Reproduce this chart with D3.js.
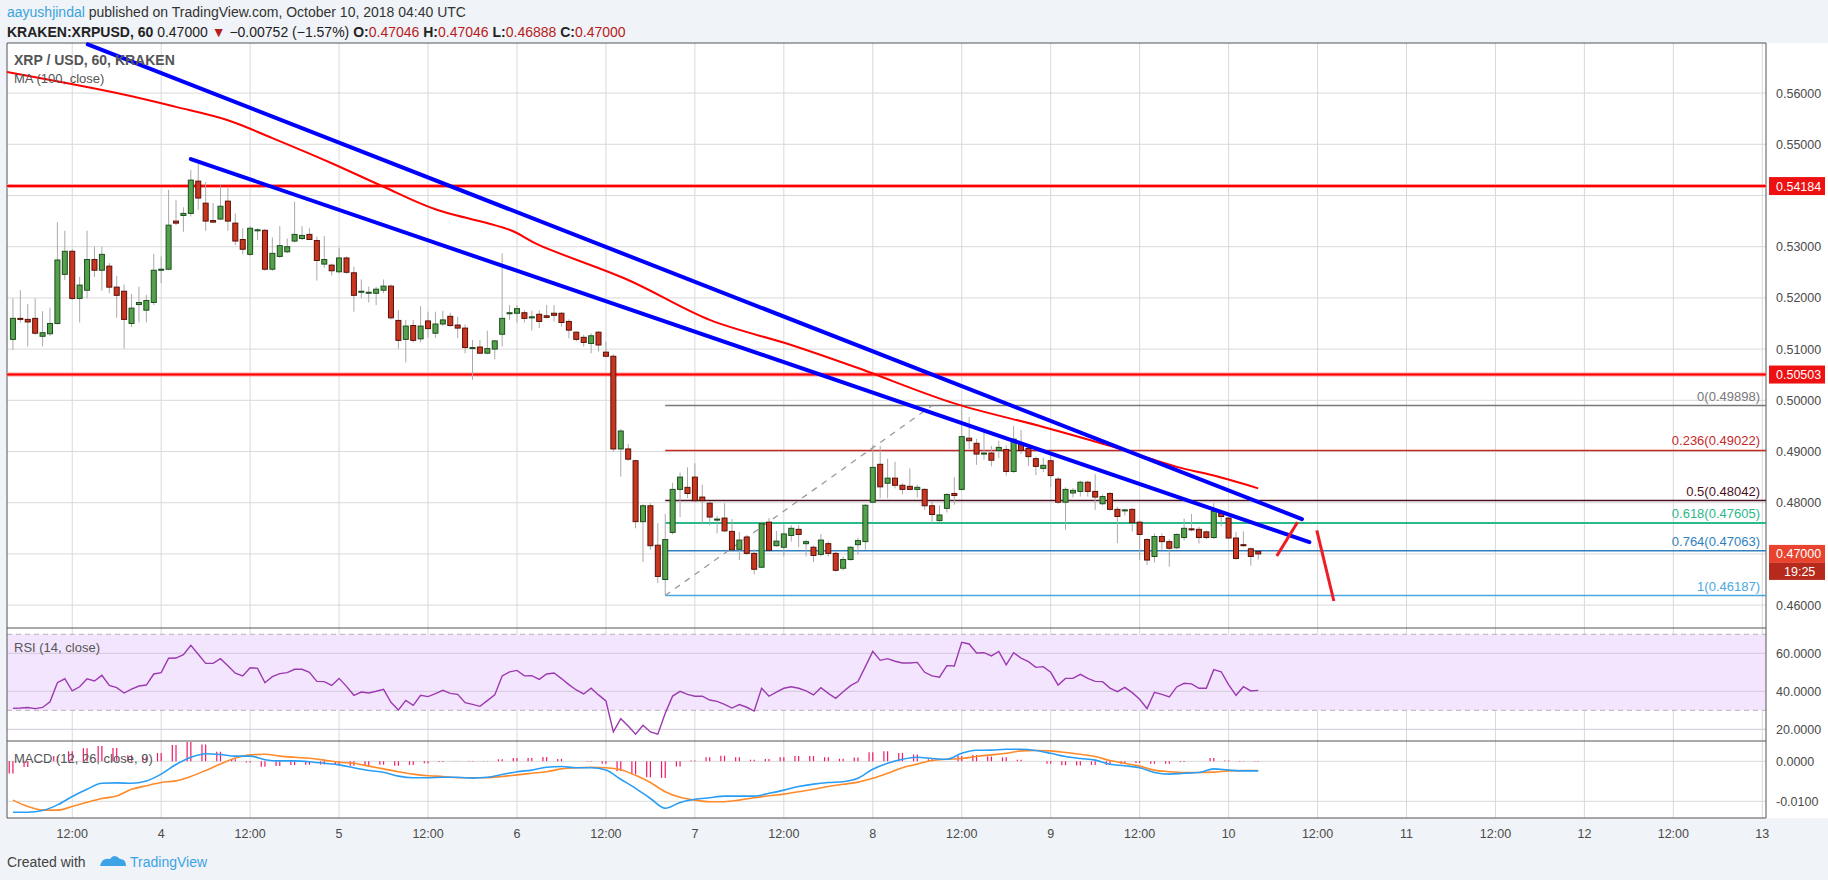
<!DOCTYPE html>
<html><head><meta charset="utf-8">
<script src="https://cdn.jsdelivr.net/npm/d3@7"></script>
<style>body{margin:0;background:#f0f3f7;}svg{display:block;font-family:"Liberation Sans",Arial,sans-serif;}</style>
</head><body><svg id="c" width="1828" height="880"></svg>
<script>
// ---- DATA ----
const firstHour = -20; // candle 0 = Oct 3 04:00 (hours from Oct 4 00:00)
const candles = [
[.5119,.5199,.5098,.5160],[.5160,.5215,.5152,.5158],[.5158,.5188,.5105,.5153],[.5160,.5199,.5128,.5131],[.5125,.5174,.5105,.5132],
[.5130,.5181,.5126,.5150],[.5150,.5348,.5148,.5274],[.5246,.5331,.5235,.5291],[.5291,.5295,.5196,.5199],[.5199,.5241,.5152,.5225],
[.5215,.5331,.5199,.5275],[.5275,.5300,.5241,.5254],[.5254,.5300,.5214,.5285],[.5262,.5268,.5209,.5221],[.5221,.5243,.5161,.5205],
[.5213,.5226,.5101,.5158],[.5150,.5208,.5143,.5180],[.5187,.5222,.5152,.5191],[.5176,.5206,.5152,.5195],[.5191,.5286,.5186,.5254],
[.5254,.5281,.5229,.5256],[.5256,.5411,.5254,.5342],[.5350,.5391,.5342,.5346],[.5361,.5377,.5329,.5365],[.5365,.5450,.5359,.5430],
[.5428,.5463,.5372,.5395],[.5385,.5426,.5331,.5350],[.5351,.5385,.5346,.5348],[.5354,.5420,.5352,.5379],[.5389,.5417,.5331,.5350],
[.5346,.5365,.5303,.5311],[.5314,.5336,.5285,.5295],[.5285,.5340,.5282,.5336],[.5331,.5336,.5313,.5333],[.5332,.5335,.5253,.5256],
[.5256,.5318,.5253,.5287],[.5281,.5340,.5278,.5302],[.5290,.5316,.5287,.5300],[.5311,.5388,.5308,.5324],[.5316,.5340,.5313,.5322],
[.5324,.5336,.5313,.5314],[.5312,.5320,.5234,.5273],[.5266,.5321,.5259,.5275],[.5264,.5267,.5244,.5253],[.5251,.5298,.5248,.5278],
[.5278,.5281,.5247,.5250],[.5249,.5261,.5173,.5205],[.5211,.5236,.5199,.5213],[.5210,.5222,.5191,.5211],[.5209,.5222,.5186,.5217],
[.5215,.5236,.5209,.5223],[.5223,.5226,.5158,.5161],[.5156,.5176,.5101,.5117],[.5119,.5157,.5074,.5145],[.5146,.5157,.5113,.5117],
[.5120,.5184,.5113,.5145],[.5155,.5173,.5122,.5140],[.5131,.5173,.5122,.5149],[.5149,.5175,.5145,.5157],[.5164,.5171,.5144,.5146],
[.5147,.5163,.5121,.5141],[.5141,.5148,.5092,.5103],[.5101,.5118,.5040,.5103],[.5104,.5118,.5090,.5092],[.5092,.5136,.5090,.5101],
[.5100,.5118,.5080,.5116],[.5129,.5287,.5105,.5160],[.5170,.5186,.5157,.5171],[.5170,.5186,.5152,.5179],[.5171,.5176,.5152,.5160],
[.5161,.5175,.5136,.5163],[.5168,.5176,.5141,.5154],[.5165,.5186,.5160,.5162],[.5170,.5186,.5154,.5166],[.5170,.5172,.5144,.5152],
[.5154,.5158,.5121,.5137],[.5133,.5135,.5115,.5119],[.5123,.5128,.5105,.5113],[.5111,.5131,.5092,.5126],[.5133,.5135,.5095,.5108],
[.5094,.5115,.5084,.5086],[.5086,.5090,.4900,.4905],[.4905,.4944,.4851,.4940],[.4905,.4915,.4882,.4885],[.4882,.4884,.4750,.4763],
[.4763,.4797,.4684,.4794],[.4794,.4799,.4708,.4716],[.4717,.4760,.4643,.4656],[.4650,.4778,.4619,.4728],[.4742,.4839,.4738,.4826],
[.4826,.4859,.4772,.4850],[.4830,.4869,.4809,.4818],[.4850,.4877,.4801,.4804],[.4811,.4835,.4759,.4804],[.4799,.4802,.4756,.4772],
[.4766,.4774,.4740,.4768],[.4770,.4799,.4743,.4745],[.4744,.4768,.4706,.4708],[.4709,.4743,.4688,.4727],[.4733,.4737,.4698,.4701],
[.4701,.4709,.4660,.4670],[.4674,.4763,.4672,.4759],[.4762,.4770,.4705,.4707],[.4716,.4745,.4714,.4725],[.4713,.4758,.4695,.4739],
[.4736,.4756,.4724,.4750],[.4748,.4756,.4713,.4738],[.4720,.4728,.4695,.4724],[.4713,.4716,.4684,.4697],[.4699,.4739,.4695,.4727],
[.4720,.4724,.4695,.4701],[.4701,.4704,.4665,.4668],[.4672,.4695,.4668,.4689],[.4689,.4715,.4687,.4713],[.4718,.4732,.4699,.4726],
[.4724,.4797,.4708,.4795],[.4801,.4913,.4799,.4869],[.4875,.4911,.4809,.4831],[.4838,.4886,.4809,.4848],[.4848,.4880,.4828,.4834],
[.4834,.4838,.4816,.4826],[.4832,.4867,.4824,.4826],[.4826,.4835,.4810,.4830],[.4826,.4828,.4786,.4794],[.4794,.4802,.4760,.4777],
[.4765,.4795,.4763,.4776],[.4789,.4819,.4781,.4816],[.4818,.4850,.4796,.4814],[.4826,.4994,.4824,.4929],[.4926,.4967,.4905,.4921],
[.4916,.4925,.4874,.4895],[.4895,.4939,.4884,.4897],[.4897,.4911,.4871,.4883],[.4902,.4921,.4887,.4908],[.4904,.4912,.4853,.4861],
[.4861,.4950,.4858,.4924],[.4914,.4942,.4895,.4902],[.4906,.4913,.4872,.4890],[.4886,.4890,.4854,.4871],[.4867,.4888,.4860,.4873],
[.4882,.4900,.4831,.4853],[.4846,.4850,.4798,.4801],[.4801,.4830,.4747,.4826],[.4819,.4829,.4810,.4824],[.4822,.4843,.4812,.4840],
[.4840,.4843,.4812,.4822],[.4822,.4856,.4786,.4811],[.4798,.4816,.4795,.4812],[.4818,.4821,.4784,.4787],[.4787,.4792,.4721,.4773],
[.4785,.4788,.4775,.4786],[.4787,.4790,.4744,.4761],[.4762,.4765,.4688,.4738],[.4728,.4731,.4678,.4688],[.4695,.4740,.4683,.4734],
[.4734,.4740,.4708,.4724],[.4724,.4729,.4675,.4711],[.4712,.4740,.4709,.4738],[.4732,.4769,.4726,.4750],[.4749,.4778,.4744,.4747],
[.4748,.4753,.4720,.4732],[.4743,.4746,.4729,.4732],[.4732,.4799,.4729,.4783],[.4779,.4786,.4754,.4773],[.4770,.4772,.4729,.4731],
[.4731,.4743,.4689,.4691],[.4718,.4744,.4714,.4716],[.4710,.4713,.4677,.4695],[.4705,.4705,.4689,.4700]
];
// MA(100) read at candle indexes
const maIndex = [0,14,22,29,35,43,50,57,67,71,83,94,105,114,127,139,148,157,162,168];
const maValue = [.5641,.5600,.5573,.5547,.5512,.5463,.5417,.5373,.5333,.5303,.5235,.5157,.5108,.5063,.4994,.4948,.4911,.4870,.4853,.4828];
const rsi = [31.0,31.2,31.5,30.9,31.5,34.5,44.5,46.6,40.2,42.4,46.6,45.4,48.4,43.1,41.9,39.1,41.2,42.8,43.3,49.1,49.8,
57.4,57.5,59.3,64.2,59.5,54.7,54.7,57.2,53.5,49.5,48.1,52.4,52.1,44.5,47.7,49.3,49.8,51.6,51.6,50.0,
45.2,45.1,43.1,46.8,42.6,37.9,39.6,39.1,40.0,41.0,34.2,30.2,35.2,32.6,37.9,37.2,38.8,40.5,38.9,38.4,
34.0,33.1,32.1,35.1,38.1,48.1,50.2,51.0,48.1,48.2,46.3,49.1,49.6,46.7,43.5,40.7,38.6,41.6,38.1,34.9,
18.6,25.6,21.7,17.4,22.1,18.6,17.4,28.4,37.5,40.0,38.4,37.4,
37.4,35.4,34.7,33.1,31.2,33.0,31.6,29.6,41.6,37.4,39.6,41.6,42.4,41.6,40.2,38.1,41.9,38.9,36.3,39.8,43.0,45.1,53.0,61.0,56.3,57.2,55.8,54.9,54.9,55.2,
50.0,48.1,47.4,53.5,53.3,65.8,64.9,60.2,60.3,58.6,61.0,53.9,60.3,57.5,55.6,52.6,53.0,50.0,43.3,46.8,46.8,48.9,46.8,45.2,45.1,41.7,39.8,42.1,39.3,35.8,
30.9,39.5,38.4,37.0,42.3,44.2,43.9,41.6,41.6,51.4,50.3,43.5,37.9,42.4,40.2,40.5];
// MACD (12,26,9), values x1e-4, every 2nd candle (index 0,2,...,168)
const macdLine = [-127.5,-127.5,-123,-109,-88,-70,-55,-54,-55,-49,-32,-8,10,19,17,13,13,4,1,1,-1,-5,-9,-16,-23,-27.5,-37,-41,-41,-40,-40,-42,-40,-33,-26,-22,-15,-13,-16,-16,-22,-45,-67.5,-93,-117.5,-103,-95,
-91,-87,-87,-87,-80,-72,-63,-57,-53,-51,-42.5,-20,-5,5,10,7,5,20,27.5,28,30,30,27,20,12,7,3,-7.5,-11,-16,-28,-32,-30,-28,-19,-22,-24,-24];
const signalLine = [-97,-113,-122,-122,-113,-102.5,-93,-87,-70,-61,-53,-49,-38,-23,-7,8,16,17.5,13,10,7.5,3,-2.5,-5,-12,-19,-26,-32,-36,-38,-41,-41,-41,-38,-34,-30,-26,-19,-16,-15,-16,-21,-35,-53,-76,-90,-97,
-101,-101,-97,-91,-86,-82,-76,-70,-63,-57.5,-52,-42.5,-30,-16,-7,2,5,7,12,16,20,26,27,26,22,17.5,12,2,-5,-12,-22,-26,-28,-28,-27,-24,-23,-23];
const trendLines = [{i1:10.1,p1:.5695,i2:173.9,p2:.4768},{i1:24,p1:.5471,i2:174.9,p2:.4723}];
const hLevels = [0.54184, 0.50503];
const fibStart = {i:88, p:0.46187}, fibEnd = {i:124, p:0.49898};
const fibLevels = [["0",0.49898,"#787878"],["0.236",0.49022,"#c62828"],["0.5",0.48042,"#4a1022"],["0.618",0.47605,"#2bb88a"],["0.764",0.47063,"#2f7fc0"],["1",0.46187,"#4aa8df"]];
const arrowPts = [[[170.5,.4696],[173.3,.4762]],[[175.9,.4746],[178.2,.4608]]];
const priceTicks = [0.46,0.47,0.48,0.49,0.50,0.51,0.52,0.53,0.54,0.55,0.56];
const timeTickLabels = ["12:00","4","12:00","5","12:00","6","12:00","7","12:00","8","12:00","9","12:00","10","12:00","11","12:00","12","12:00","13"];
const rsiTicks = [20,40,60];

// ---- LAYOUT ----
const L=7, R=1766, T=43, PB=628, RB=741, MB=818;
const svg=d3.select("#c");
const x=d3.scaleLinear().domain([-20.8,216.5]).range([L,R]);
const xi=i=>x(i+firstHour);
const y=d3.scaleLinear().domain([0.45553,0.56978]).range([PB,T]);
const yr=d3.scaleLinear().domain([0,100]).range([824.3,634.3-0]); // 10 units = 19px
yr.domain([60,40]).range([653.3,691.3]);
const ym=d3.scaleLinear().domain([0,-100]).range([761.3,801.3]);

svg.append("rect").attr("x",0).attr("y",0).attr("width",1828).attr("height",880).attr("fill","#f0f3f7");
svg.append("rect").attr("x",L).attr("y",T).attr("width",1828-L).attr("height",MB-T).attr("fill","#fff");
const grid="#d9d9d9";
// vertical grid
const tickHours=timeTickLabels.map((d,k)=>-12+12*k);
tickHours.forEach(h=>svg.append("line").attr("x1",x(h)).attr("x2",x(h)).attr("y1",T).attr("y2",MB).attr("stroke",grid));
priceTicks.forEach(p=>svg.append("line").attr("x1",L).attr("x2",R).attr("y1",y(p)).attr("y2",y(p)).attr("stroke",grid));
// RSI pane
svg.append("rect").attr("x",L).attr("y",yr(70)).attr("width",R-L).attr("height",yr(30)-yr(70)).attr("fill","#f3e5fd");
rsiTicks.forEach(v=>svg.append("line").attr("x1",L).attr("x2",R).attr("y1",yr(v)).attr("y2",yr(v)).attr("stroke","#d4c8dc"));
[70,30].forEach(v=>svg.append("line").attr("x1",L).attr("x2",R).attr("y1",yr(v)).attr("y2",yr(v)).attr("stroke","#b8b0c0").attr("stroke-dasharray","5,4"));
// MACD grid
[0,-100].forEach(v=>svg.append("line").attr("x1",L).attr("x2",R).attr("y1",ym(v)).attr("y2",ym(v)).attr("stroke",grid));
// pane borders
[T,PB,RB,MB].forEach(yy=>svg.append("line").attr("x1",L).attr("x2",R).attr("y1",yy).attr("y2",yy).attr("stroke","#555"));
svg.append("line").attr("x1",L).attr("x2",L).attr("y1",T).attr("y2",MB).attr("stroke","#555");
svg.append("line").attr("x1",R).attr("x2",R).attr("y1",T).attr("y2",MB).attr("stroke","#555");

// horizontal red levels
hLevels.forEach(p=>{svg.append("line").attr("x1",L).attr("x2",R).attr("y1",y(p)).attr("y2",y(p)).attr("stroke","#ff9a9a").attr("stroke-width",4);
 svg.append("line").attr("x1",L).attr("x2",R).attr("y1",y(p)).attr("y2",y(p)).attr("stroke","#ff0000").attr("stroke-width",2);});
// fib
fibLevels.forEach(([lab,p,col])=>{
 svg.append("line").attr("x1",xi(fibStart.i)).attr("x2",R).attr("y1",y(p)).attr("y2",y(p)).attr("stroke",col).attr("stroke-width",lab==="0.618"?2:1.5);
 svg.append("text").attr("x",R-6).attr("y",y(p)-5).attr("text-anchor","end").attr("font-size",13).attr("fill",col).text(`${lab}(${p.toFixed(5)})`);
});
svg.append("line").attr("x1",xi(fibStart.i)).attr("y1",y(fibStart.p)).attr("x2",xi(fibEnd.i)).attr("y2",y(fibEnd.p)).attr("stroke","#999").attr("stroke-dasharray","6,6").attr("stroke-width",1.3);

// candles
const cw=5;
const cg=svg.append("g");
candles.forEach((c,i)=>{const [o,h,l,cl]=c;const up=cl>=o;const cx=xi(i);
 cg.append("line").attr("x1",cx).attr("x2",cx).attr("y1",y(h)).attr("y2",y(l)).attr("stroke","#aaa");
 const top=y(Math.max(o,cl)),bot=y(Math.min(o,cl));
 cg.append("rect").attr("x",cx-cw/2).attr("y",top).attr("width",cw).attr("height",Math.max(1,bot-top))
  .attr("fill",up?"#53a14a":"#c8361f").attr("stroke",up?"#1e4d1e":"#5a1008").attr("stroke-width",1);
});
// MA
svg.append("path").datum(maIndex.map((d,k)=>[d,maValue[k]]))
 .attr("d",d3.line().x(d=>d[0]===0?L:xi(d[0])).y(d=>y(d[1])).curve(d3.curveCatmullRom))
 .attr("fill","none").attr("stroke","#ff0000").attr("stroke-width",2);
// trend lines
trendLines.forEach(t=>svg.append("line").attr("x1",xi(t.i1)).attr("y1",y(t.p1)).attr("x2",xi(t.i2)).attr("y2",y(t.p2)).attr("stroke","#0000ff").attr("stroke-width",4).attr("stroke-linecap","round"));
// red hand arrows
arrowPts.forEach(s=>svg.append("line").attr("x1",xi(s[0][0])).attr("y1",y(s[0][1])).attr("x2",xi(s[1][0])).attr("y2",y(s[1][1])).attr("stroke","#ee1c25").attr("stroke-width",3));

// RSI line
svg.append("path").datum(rsi).attr("d",d3.line().x((d,i)=>xi(i)).y(d=>yr(d))).attr("fill","none").attr("stroke","#9c3ab0").attr("stroke-width",1.4);
// MACD
const step=2;
macdLine.forEach((m,k)=>{const h=m-signalLine[k];const cx=xi(k*step);
 [cx-3.7,cx].forEach(xx=>svg.append("line").attr("x1",xx).attr("x2",xx).attr("y1",ym(0)).attr("y2",ym(h)).attr("stroke","#ee1a6a").attr("stroke-width",1.2));});
svg.append("path").datum(signalLine).attr("d",d3.line().x((d,k)=>xi(k*step)).y(d=>ym(d)).curve(d3.curveMonotoneX)).attr("fill","none").attr("stroke","#ff8a2a").attr("stroke-width",1.6);
svg.append("path").datum(macdLine).attr("d",d3.line().x((d,k)=>xi(k*step)).y(d=>ym(d)).curve(d3.curveMonotoneX)).attr("fill","none").attr("stroke","#2a9df4").attr("stroke-width",1.6);

// right axis labels
const AX=1776, tc="#4a4a4a";
priceTicks.forEach(p=>{if(Math.abs(p-0.54)<1e-9||Math.abs(p-0.47)<1e-9) return; svg.append("text").attr("x",AX).attr("y",y(p)+4.5).attr("font-size",12.5).attr("fill",tc).text(p.toFixed(5));});
function tag(p,txt,col){const yy=y(p);svg.append("rect").attr("x",1769).attr("y",yy-9).attr("width",56).attr("height",18).attr("fill",col);
 svg.append("text").attr("x",AX).attr("y",yy+4.5).attr("font-size",12.5).attr("fill","#fff").text(txt);}
hLevels.forEach(p=>tag(p,p.toFixed(5),"#ee1111"));
tag(0.47,"0.47000","#e8432e");
svg.append("rect").attr("x",1769).attr("y",y(0.47)+9).attr("width",56).attr("height",17).attr("fill","#b52a1c");
svg.append("text").attr("x",1784).attr("y",y(0.47)+22).attr("font-size",12.5).attr("fill","#fff").text("19:25");
rsiTicks.forEach(v=>svg.append("text").attr("x",AX).attr("y",yr(v)+4.5).attr("font-size",12.5).attr("fill",tc).text(v.toFixed(4)));
[[0,"0.0000"],[-100,"-0.0100"]].forEach(([v,t])=>svg.append("text").attr("x",AX).attr("y",ym(v)+4.5).attr("font-size",12.5).attr("fill",tc).text(t));
// time axis
timeTickLabels.forEach((t,k)=>svg.append("text").attr("x",x(tickHours[k])).attr("y",838).attr("text-anchor","middle").attr("font-size",12.5).attr("fill",tc).text(t));

// pane captions
svg.append("text").attr("x",14).attr("y",65).attr("font-size",14).attr("fill","#555").attr("font-weight","bold").text("XRP / USD, 60, KRAKEN");
svg.append("text").attr("x",14).attr("y",83).attr("font-size",13).attr("fill","#555").text("MA (100, close)");
svg.append("text").attr("x",14).attr("y",652).attr("font-size",13).attr("fill","#555").text("RSI (14, close)");
svg.append("text").attr("x",14).attr("y",763).attr("font-size",13).attr("fill","#555").text("MACD (12, 26, close, 9)");

// header
const h1=svg.append("text").attr("x",7).attr("y",17).attr("font-size",14).attr("fill","#333");
h1.append("tspan").attr("fill","#3aa4dd").text("aayushjindal");
h1.append("tspan").text(" published on TradingView.com, October 10, 2018 04:40 UTC");
const h2=svg.append("text").attr("x",7).attr("y",37).attr("font-size",14).attr("fill","#222");
h2.append("tspan").attr("font-weight","bold").text("KRAKEN:XRPUSD, 60");
h2.append("tspan").text(" 0.47000 ");
h2.append("tspan").attr("fill","#b71c1c").text("▼");
h2.append("tspan").text(" −0.00752 (−1.57%) ");
[["O:","0.47046"],["H:","0.47046"],["L:","0.46888"],["C:","0.47000"]].forEach(([a,b])=>{h2.append("tspan").attr("font-weight","bold").text(a);h2.append("tspan").attr("fill","#b71c1c").text(b+" ");});
// footer
svg.append("text").attr("x",7).attr("y",867).attr("font-size",14).attr("fill","#444").text("Created with");
svg.append("path").attr("d","M100,866 q2,-9 10,-7 q4,-6 10,0 q6,0 6,7 z").attr("fill","#3ba3e6");
svg.append("text").attr("x",130).attr("y",867).attr("font-size",14).attr("fill","#3ba3e6").text("TradingView");
</script></body></html>
